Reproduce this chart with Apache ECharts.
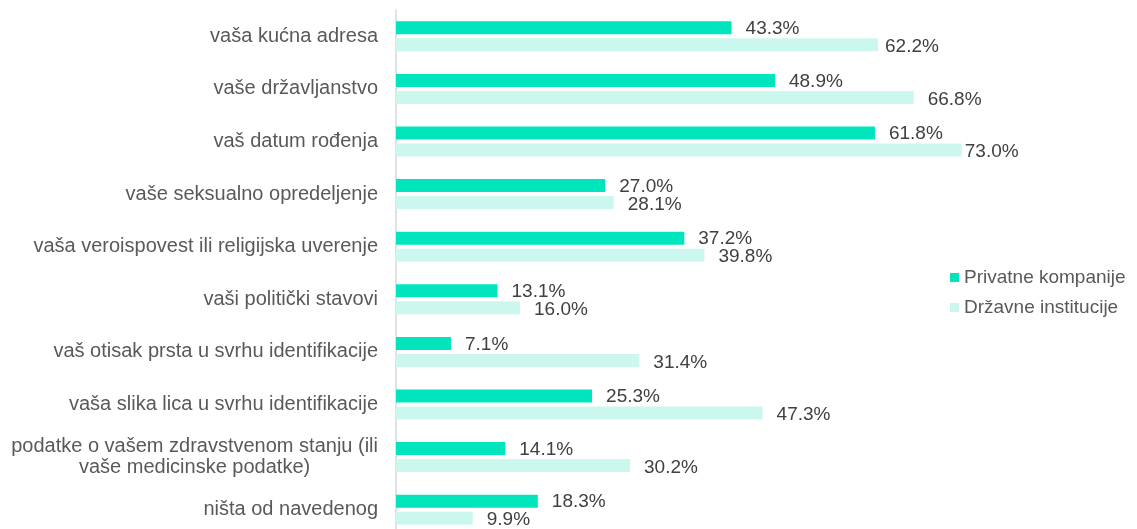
<!DOCTYPE html>
<html>
<head>
<meta charset="utf-8">
<script src="https://cdn.jsdelivr.net/npm/echarts@6/dist/echarts.min.js"></script>
<style>
  html, body { margin: 0; padding: 0; background: #fff; }
  #chart { width: 1137px; height: 529px; }
</style>
</head>
<body>
<div id="chart"></div>
<script>
// categories, top to bottom
const categories = [
  'vaša kućna adresa',
  'vaše državljanstvo',
  'vaš datum rođenja',
  'vaše seksualno opredeljenje',
  'vaša veroispovest ili religijska uverenje',
  'vaši politički stavovi',
  'vaš otisak prsta u svrhu identifikacije',
  'vaša slika lica u svrhu identifikacije',
  'podatke o vašem zdravstvenom stanju (ili\nvaše medicinske podatke)',
  'ništa od navedenog',
];

const privatne = [43.3, 48.9, 61.8, 27.0, 37.2, 13.1, 7.1, 25.3, 14.1, 18.3];
const drzavne  = [62.2, 66.8, 73.0, 28.1, 39.8, 16.0, 31.4, 47.3, 30.2, 9.9];

const seriesNames = ['Privatne kompanije', 'Državne institucije'];
const COLORS = ['#00E5BE', '#CCF7EF'];
const FONT = '"Liberation Sans", Arial, sans-serif';

// Excel nudged a couple of labels closer to their bars
const labelNudge = { 1: { 0: -7, 2: -11 } };
const labelDy = [1, 2];

function toData(values, si) {
  return values.map((v, i) => {
    const nudge = labelNudge[si] && labelNudge[si][i];
    return nudge ? { value: v, label: { offset: [nudge, labelDy[si]] } } : v;
  });
}

const chart = echarts.init(document.getElementById('chart'), null, { renderer: 'canvas' });

chart.setOption({
  animation: false,
  color: COLORS,
  // plot area runs a few px past the bottom edge, as in the original crop
  grid: { left: 396, width: 620, top: 10, height: 526, outerBoundsMode: 'none' },
  legend: {
    orient: 'vertical',
    left: 945,
    top: 263,
    itemWidth: 9,
    itemHeight: 9,
    itemGap: 11,
    icon: 'rect',
    data: seriesNames,
    textStyle: { color: '#595959', fontSize: 19, fontFamily: FONT },
  },
  xAxis: {
    type: 'value',
    min: 0,
    max: 80,
    show: false,
  },
  yAxis: {
    type: 'category',
    inverse: true,
    data: categories,
    axisLine: { show: true, lineStyle: { color: '#D9D9D9', width: 1.5 } },
    axisTick: { show: false },
    axisLabel: {
      margin: 18,
      color: '#595959',
      fontSize: 20,
      fontFamily: FONT,
      lineHeight: 21,
      formatter: v => v.split('\n').map(l => '{c|' + l + '}').join('\n'),
      rich: {
        c: { align: 'center', color: '#595959', fontSize: 20, fontFamily: FONT, lineHeight: 21 },
      },
    },
  },
  series: [privatne, drzavne].map((vals, si) => ({
    name: seriesNames[si],
    type: 'bar',
    data: toData(vals, si),
    barWidth: 13,
    barGap: '31%',
    label: {
      show: true,
      position: 'right',
      distance: 14,
      offset: [0, labelDy[si]],
      color: '#404040',
      fontSize: 19,
      fontFamily: FONT,
      formatter: p => p.value.toFixed(1) + '%',
    },
  })),
});
</script>
</body>
</html>
